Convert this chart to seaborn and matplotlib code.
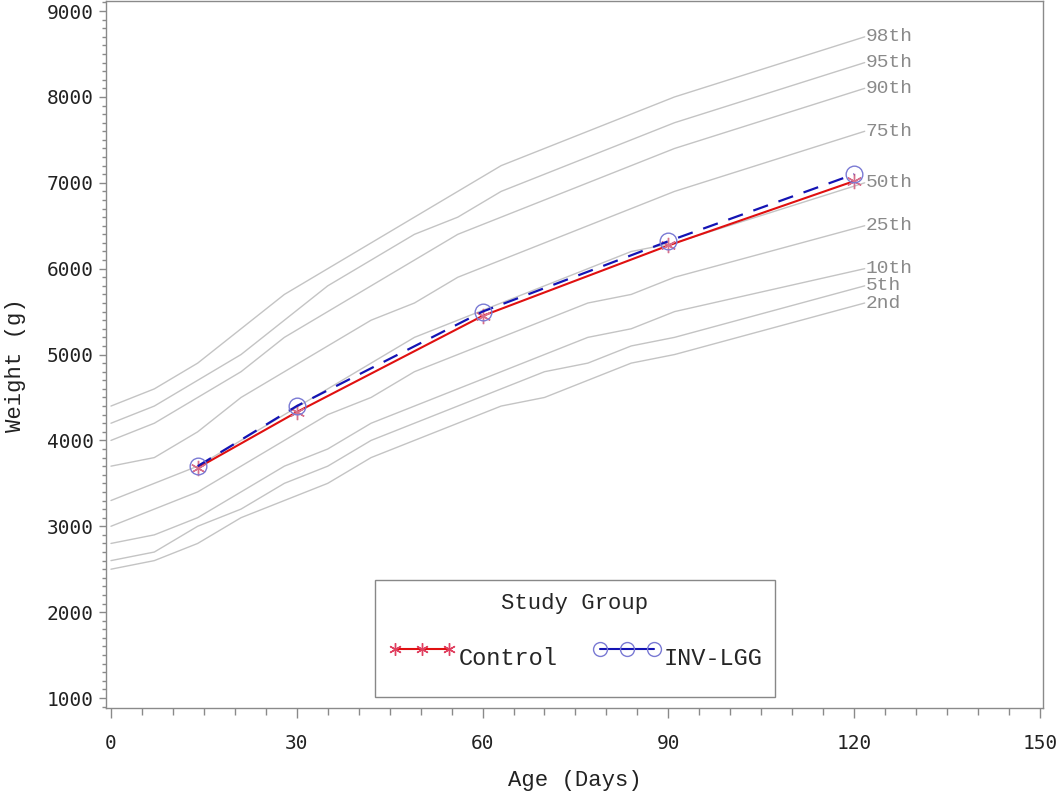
import numpy as np
import pandas as pd
import matplotlib
matplotlib.use("Agg")
import matplotlib.pyplot as plt
from matplotlib.lines import Line2D
from matplotlib.ticker import MultipleLocator
import seaborn as sns

# reference percentile curves (g) at weekly points, then 4 months
ref_days = [0, 7, 14, 21, 28, 35, 42, 49, 56, 63, 70, 77, 84, 91, 121.7]
pct_labels = ["98th", "95th", "90th", "75th", "50th", "25th", "10th", "5th", "2nd"]
p98 = [4400, 4600, 4900, 5300, 5700, 6000, 6300, 6600, 6900, 7200, 7400, 7600, 7800, 8000, 8700]
p95 = [4200, 4400, 4700, 5000, 5400, 5800, 6100, 6400, 6600, 6900, 7100, 7300, 7500, 7700, 8400]
p90 = [4000, 4200, 4500, 4800, 5200, 5500, 5800, 6100, 6400, 6600, 6800, 7000, 7200, 7400, 8100]
p75 = [3700, 3800, 4100, 4500, 4800, 5100, 5400, 5600, 5900, 6100, 6300, 6500, 6700, 6900, 7600]
p50 = [3300, 3500, 3700, 4000, 4300, 4600, 4900, 5200, 5400, 5600, 5800, 6000, 6200, 6300, 7000]
p25 = [3000, 3200, 3400, 3700, 4000, 4300, 4500, 4800, 5000, 5200, 5400, 5600, 5700, 5900, 6500]
p10 = [2800, 2900, 3100, 3400, 3700, 3900, 4200, 4400, 4600, 4800, 5000, 5200, 5300, 5500, 6000]
p05 = [2600, 2700, 3000, 3200, 3500, 3700, 4000, 4200, 4400, 4600, 4800, 4900, 5100, 5200, 5800]
p02 = [2500, 2600, 2800, 3100, 3300, 3500, 3800, 4000, 4200, 4400, 4500, 4700, 4900, 5000, 5600]
curves = [p98, p95, p90, p75, p50, p25, p10, p05, p02]

# study groups
visit_days = [14, 30, 60, 90, 120]
control = [3680, 4330, 5450, 6270, 7020]
inv_lgg = [3700, 4400, 5500, 6320, 7100]

rows = []
for lab, vals in zip(pct_labels, curves):
    for d, v in zip(ref_days, vals):
        rows.append({"day": d, "weight": v, "pct": lab})
ref = pd.DataFrame(rows)
grp_c = pd.DataFrame({"day": visit_days, "weight": control})
grp_i = pd.DataFrame({"day": visit_days, "weight": inv_lgg})

sns.set_theme(style="white")
plt.rcParams["font.family"] = ["Liberation Mono", "DejaVu Sans Mono"]

fig = plt.figure(figsize=(10.57, 7.96), dpi=100)
ax = fig.add_axes([0.1003, 0.1106, 0.8865, 0.888])

grey = "#c4c4c4"
sns.lineplot(data=ref, x="day", y="weight", hue="pct", palette=[grey] * 9,
             estimator=None, sort=False, legend=False, linewidth=1.0, ax=ax)
for lab, vals in zip(pct_labels, curves):
    ax.text(ref_days[-1] + 0.1, vals[-1], lab, color="#8a8a8a", fontsize=14,
            ha="left", va="center")

red = "#e01010"
blue = "#1414b4"
star = (6, 2, 0)
sns.lineplot(data=grp_c, x="day", y="weight", color=red, linewidth=1.5,
             marker=star, markersize=11, markeredgecolor="#d8708c",
             markeredgewidth=1.0, ax=ax)
sns.lineplot(data=grp_i, x="day", y="weight", color=blue, linewidth=1.6,
             linestyle=(0, (7, 5)), marker="o", markersize=12,
             markerfacecolor="none", markeredgecolor="#7a7ad4",
             markeredgewidth=1.0, ax=ax)

ax.set_xlim(-0.8, 150.5)
ax.set_ylim(884, 9116)
ax.xaxis.set_major_locator(MultipleLocator(30))
ax.xaxis.set_minor_locator(MultipleLocator(5))
ax.yaxis.set_major_locator(MultipleLocator(1000))
ax.yaxis.set_minor_locator(MultipleLocator(100))

tick_col = "#8a8a8a"
for s in ax.spines.values():
    s.set_color(tick_col)
    s.set_linewidth(1.0)
ax.tick_params(axis="x", which="major", length=7, width=1, color=tick_col,
               pad=12, labelsize=14, direction="out", bottom=True)
ax.tick_params(axis="x", which="minor", length=5, width=1, color=tick_col,
               direction="out", bottom=True)
ax.tick_params(axis="y", which="major", length=5, width=1, color=tick_col,
               pad=4, labelsize=14, direction="out", left=True)
ax.tick_params(axis="y", which="minor", length=3, width=1, color=tick_col,
               direction="out", left=True)
for t in ax.get_xticklabels() + ax.get_yticklabels():
    t.set_family("DejaVu Sans Mono")
    t.set_color("#222222")

ax.set_xlabel("Age (Days)", fontsize=16, color="#222222", va="center")
ax.set_ylabel("Weight (g)", fontsize=16, color="#222222", va="center")
ax.xaxis.set_label_coords(0.5005, -0.102)
ax.yaxis.set_label_coords(-0.097, 0.485)

handles = [
    Line2D([], [], color=red, linewidth=1.5, marker=star, markersize=9,
           markeredgecolor="#e04060", markeredgewidth=1.0),
    Line2D([], [], color=blue, linewidth=1.5, marker="o", markersize=10,
           markerfacecolor="none", markeredgecolor="#7a7ad4", markeredgewidth=1.0),
]
leg = ax.legend(handles, ["Control", "INV-LGG"], title="Study Group", ncol=2,
                loc="lower center", bbox_to_anchor=(0.5005, 0.0156),
                borderaxespad=0, fontsize=17, title_fontsize=16, numpoints=3,
                handlelength=2.9, handletextpad=0.1, columnspacing=1.5,
                handleheight=3.0, labelspacing=0.75, borderpad=0.55,
                frameon=True, fancybox=False, framealpha=1,
                edgecolor="#888888")
leg.get_frame().set_linewidth(1.0)

fig.savefig("out.png", dpi=100)
